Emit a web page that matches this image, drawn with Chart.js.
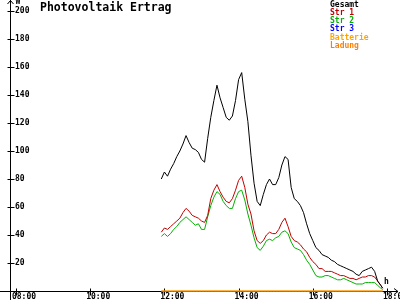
<!DOCTYPE html>
<html>
<head>
<meta charset="utf-8">
<script src="https://cdn.jsdelivr.net/npm/chart.js@4"></script>
<style>
  html, body { margin: 0; padding: 0; background: #fff; }
</style>
</head>
<body>
<canvas id="pvChart" width="400" height="300"></canvas>
<script>
// Uhrzeit der Messwerte
const times = [
  '11:55', '12:00', '12:05', '12:10', '12:15', '12:20', '12:25', '12:30', '12:35', '12:40', '12:45', '12:50', '12:55',
  '13:00', '13:05', '13:10', '13:15', '13:20', '13:25', '13:30', '13:35', '13:40', '13:45', '13:50', '13:55',
  '14:00', '14:05', '14:10', '14:15', '14:20', '14:25', '14:30', '14:35', '14:40', '14:45', '14:50', '14:55',
  '15:00', '15:05', '15:10', '15:15', '15:20', '15:25', '15:30', '15:35', '15:40', '15:45', '15:50', '15:55',
  '16:00', '16:05', '16:10', '16:15', '16:20', '16:25', '16:30', '16:35', '16:40', '16:45', '16:50', '16:55',
  '17:00', '17:05', '17:10', '17:15', '17:20', '17:25', '17:30', '17:35', '17:40', '17:45', '17:50', '17:53'
];

// Leistung in W
const gesamt = [
  80, 85, 82, 87, 91, 96, 100, 105, 111, 106, 102, 101, 99,
  94, 92, 109, 124, 136, 147, 138, 131, 124, 122, 125, 136,
  151, 156, 137, 121, 97, 77, 64, 61, 69, 76, 80, 76,
  76, 81, 90, 96, 94, 74, 66, 64, 61, 56, 48, 41,
  36, 31, 29, 26, 25, 24, 22, 21, 19, 18, 17, 16,
  15, 14, 12, 11, 14, 15, 16, 17, 14, 7, 4, 2
];
const str1 = [
  42, 45, 44, 46, 48, 50, 52, 56, 59, 57, 54, 53, 52,
  50, 49, 54, 66, 72, 76, 71, 67, 64, 63, 66, 72,
  79, 82, 74, 62, 55, 43, 36, 34, 36, 40, 42, 41,
  41, 44, 49, 52, 46, 39, 36, 35, 33, 30, 28, 24,
  21, 19, 16, 16, 14, 14, 14, 13, 12, 11, 11, 10,
  9, 9, 8, 9, 10, 10, 11, 11, 10, 7, 4, 2
];
const str2 = [
  39, 41, 39, 41, 44, 46, 49, 51, 53, 51, 49, 47, 48,
  44, 44, 53, 61, 67, 71, 69, 64, 61, 59, 59, 66,
  71, 72, 65, 55, 47, 38, 31, 29, 32, 36, 37, 36,
  38, 39, 42, 43, 41, 35, 31, 30, 29, 26, 22, 19,
  15, 11, 10, 10, 11, 11, 10, 9, 8, 8, 9, 8,
  7, 6, 5, 5, 5, 6, 6, 6, 6, 4, 2, 1
];
const str3 = [];
const batterie = [
  0, 0, 0, 0, 0, 0, 0, 0, 0, 0, 0, 0, 0,
  0, 0, 0, 0, 0, 0, 0, 0, 0, 0, 0, 0,
  0, 0, 0, 0, 0, 0, 0, 0, 0, 0, 0, 0,
  0, 0, 0, 0, 0, 0, 0, 0, 0, 0, 0, 0,
  0, 0, 0, 0, 0, 0, 0, 0, 0, 0, 0, 0,
  0, 0, 0, 0, 0, 0, 0, 0, 0, 0, 0, 0
];
const ladung = [
  0, 0, 0, 0, 0, 0, 0, 0, 0, 0, 0, 0, 0,
  0, 0, 0, 0, 0, 0, 0, 0, 0, 0, 0, 0,
  0, 0, 0, 0, 0, 0, 0, 0, 0, 0, 0, 0,
  0, 0, 0, 0, 0, 0, 0, 0, 0, 0, 0, 0,
  0, 0, 0, 0, 0, 0, 0, 0, 0, 0, 0, 0,
  0, 0, 0, 0, 0, 0, 0, 0, 0, 0, 0, 0
];

const xTickLabels = ['08:00', '10:00', '12:00', '14:00', '16:00', '18:00'];
const yTickValues = [20, 40, 60, 80, 100, 120, 140, 160, 180, 200];

const seriesNames = ['Gesamt', 'Str 1', 'Str 2', 'Str 3', 'Batterie', 'Ladung'];
const seriesColors = ['#000000', '#c00000', '#00b000', '#0000ff', '#ffa500', '#ff8000'];
const seriesData = [gesamt, str1, str2, str3, batterie, ladung];

function toHours(t) {
  const parts = t.split(':');
  return Number(parts[0]) + Number(parts[1]) / 60;
}

const xTickValues = xTickLabels.map(toHours);
const mono = "'DejaVu Sans Mono', 'Liberation Mono', monospace";

const datasets = seriesNames.map((name, i) => ({
  label: name,
  data: seriesData[i].map((v, j) => ({ x: toHours(times[j]), y: v })),
  borderColor: seriesColors[i],
  borderWidth: 1,
  pointRadius: 0,
  tension: 0,
  fill: false,
  clip: 3,
  order: i < 3 ? i : 3
}));

// Achsen mit Pfeilen, Kreuz-Ticks, Titel und Legende
const pvDecor = {
  id: 'pvDecor',
  beforeDatasetsDraw(chart) {
    const ctx = chart.ctx;
    const a = chart.chartArea;
    const xs = chart.scales.x, ys = chart.scales.y;
    const ax = Math.round(a.left) + 0.5;
    const ay = Math.round(a.bottom) + 0.5;
    ctx.save();
    ctx.strokeStyle = '#000';
    ctx.lineWidth = 1;
    ctx.beginPath();
    ctx.moveTo(ax, 0);
    ctx.lineTo(ax, chart.height);
    ctx.moveTo(0, ay);
    ctx.lineTo(a.right + 1, ay);
    ys.ticks.forEach(t => {
      const py = Math.round(ys.getPixelForValue(t.value)) + 0.5;
      ctx.moveTo(ax - 3, py);
      ctx.lineTo(ax + 4, py);
    });
    xs.ticks.forEach(t => {
      const px = Math.round(xs.getPixelForValue(t.value)) + 0.5;
      ctx.moveTo(px, ay - 3);
      ctx.lineTo(px, ay + 4);
    });
    // Pfeile
    ctx.moveTo(ax - 3, 4);
    ctx.lineTo(ax, 0.5);
    ctx.lineTo(ax + 3, 4);
    ctx.moveTo(a.right - 3, ay - 3);
    ctx.lineTo(a.right + 1, ay);
    ctx.lineTo(a.right - 3, ay + 3);
    ctx.stroke();

    ctx.fillStyle = '#000';
    ctx.font = 'bold 8px ' + mono;
    ctx.textBaseline = 'middle';
    ctx.textAlign = 'left';
    ctx.fillText('W', ax + 5, 2);
    ctx.fillText('h', a.right - 13, ay - 10);
    ctx.restore();
  },
  afterDraw(chart) {
    const ctx = chart.ctx;
    ctx.save();
    ctx.textBaseline = 'middle';
    ctx.textAlign = 'left';
    ctx.fillStyle = '#000';
    ctx.font = 'bold 11.5px ' + mono;
    ctx.fillText('Photovoltaik Ertrag', 40, 8);
    ctx.font = 'bold 8px ' + mono;
    seriesNames.forEach((name, i) => {
      ctx.fillStyle = seriesColors[i];
      ctx.fillText(name, 330, 4.5 + i * 8.3);
    });
    ctx.restore();
  }
};

new Chart(document.getElementById('pvChart'), {
  type: 'line',
  data: { datasets: datasets },
  plugins: [pvDecor],
  options: {
    responsive: false,
    animation: false,
    events: [],
    layout: { padding: { left: 0, right: 3, top: 0, bottom: 0 } },
    plugins: {
      legend: { display: false },
      title: { display: false },
      tooltip: { enabled: false }
    },
    scales: {
      x: {
        type: 'linear',
        min: 8 - 6 / 37.1,
        max: 18 + 10 / 37.1,
        afterFit: s => { s.height = 9; s.paddingLeft = 0; s.paddingRight = 0; },
        afterBuildTicks: s => { s.ticks = xTickValues.map(v => ({ value: v })); },
        grid: { display: false, drawTicks: false },
        border: { display: false },
        ticks: {
          autoSkip: false,
          maxRotation: 0,
          padding: 1,
          labelOffset: 8,
          color: '#000',
          font: { family: mono, size: 8, weight: 'bold' },
          callback: (v, i) => xTickLabels[i]
        }
      },
      y: {
        min: 0,
        max: 291 / 1.4,
        afterFit: s => { s.width = 10; s.paddingTop = 0; s.paddingBottom = 0; },
        afterBuildTicks: s => { s.ticks = yTickValues.map(v => ({ value: v })); },
        grid: { display: false, drawTicks: false },
        border: { display: false },
        ticks: {
          mirror: true,
          padding: 5,
          color: '#000',
          font: { family: mono, size: 8, weight: 'bold' },
          callback: v => String(v)
        }
      }
    }
  }
});
</script>
</body>
</html>
